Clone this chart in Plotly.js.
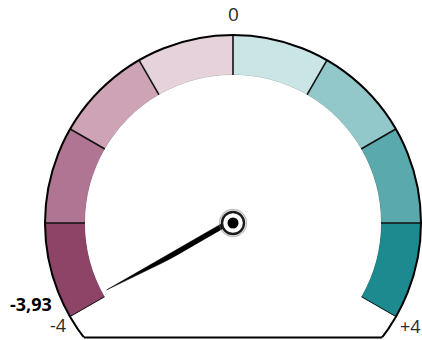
<!DOCTYPE html>
<html>
<head>
<meta charset="utf-8">
<script src="https://cdn.plot.ly/plotly-3.0.1.min.js"></script>
<style>
  html, body { margin: 0; padding: 0; background: #fff; }
  #gauge { width: 422px; height: 340px; }
</style>
</head>
<body>
<div id="gauge"></div>
<script>
// Gauge bands (value ranges and fill colours)
const bandStarts = [-4, -3, -2, -1, 0, 1, 2, 3];
const bandEnds   = [-3, -2, -1, 0, 1, 2, 3, 4];
const bandColors = ['#8e4467', '#b07592', '#cda3b5', '#e6d2da',
                    '#c9e5e6', '#92c8ca', '#5aa9ac', '#1c8a8e'];

// Needle value and the texts printed around the dial
const needleValue = -3.93;
const valueLabel = '-3,93';
const minLabel = '-4';
const midLabel = '0';
const maxLabel = '+4';

// Dial geometry (pixels in a 422x340 page)
const W = 422, H = 340;
const CX = 233, CY = 223, R = 188;
const HOLE = 0.787;
const SPAN_DEG = 240;                       // dial sweeps 240 degrees
const VMIN = bandStarts[0], VMAX = bandEnds[bandEnds.length - 1];
const DEG_PER_UNIT = SPAN_DEG / (VMAX - VMIN);
const deg = v => v * DEG_PER_UNIT;          // 0 sits at the top, clockwise positive

const px = x => x / W;
const py = y => 1 - y / H;

const domain = {
  x: [px(CX - R), px(CX + R)],
  y: [py(CY + R * 0.5), py(CY - R)]
};

// Coloured bands
const bands = {
  type: 'barpolar',
  subplot: 'polar',
  r: bandStarts.map(() => 1),
  theta: bandStarts.map((s, i) => deg((s + bandEnds[i]) / 2)),
  width: bandStarts.map((s, i) => deg(bandEnds[i] - s)),
  marker: { color: bandColors, line: { width: 0 } },
  hoverinfo: 'skip'
};

// Black dividers between bands (and the two end caps)
const bounds = [bandStarts[0]].concat(bandEnds);
const divR = [], divT = [];
bounds.forEach(b => { divR.push(0, 1, null); divT.push(deg(b), deg(b), null); });
const dividers = {
  type: 'scatterpolar',
  subplot: 'polar',
  mode: 'lines',
  r: divR, theta: divT,
  line: { color: '#111', width: 1.6 },
  hoverinfo: 'skip'
};

// Thin soft edge along the inside of the band ring
const innerT = [];
for (let v = VMIN; v <= VMAX + 1e-9; v += 0.05) innerT.push(deg(v));
const innerEdge = {
  type: 'scatterpolar',
  subplot: 'polar',
  mode: 'lines',
  r: innerT.map(() => 0),
  theta: innerT,
  line: { color: 'rgba(90,90,90,0.45)', width: 0.8 },
  hoverinfo: 'skip'
};

// Needle: a slim wedge from the hub to the value
const NEEDLE_LEN = 0.76, NEEDLE_BASE = 0.027;
const needle = {
  type: 'scatterpolar',
  subplot: 'polar2',
  mode: 'lines',
  fill: 'toself',
  fillcolor: '#000',
  r: [NEEDLE_LEN, NEEDLE_BASE, NEEDLE_BASE, NEEDLE_LEN],
  theta: [deg(needleValue), deg(needleValue) + 90, deg(needleValue) - 90, deg(needleValue)],
  line: { color: '#000', width: 0.5 },
  cliponaxis: false,
  hoverinfo: 'skip'
};

// Hub: soft grey halo, dark ring, white gap, black dot
const hubHalo = {
  type: 'scatterpolar',
  subplot: 'polar2',
  mode: 'markers',
  r: [0], theta: [0],
  marker: { size: 27, color: 'rgba(0,0,0,0)', line: { color: 'rgba(120,120,120,0.45)', width: 1.5 } },
  cliponaxis: false,
  hoverinfo: 'skip'
};
const hubRing = {
  type: 'scatterpolar',
  subplot: 'polar2',
  mode: 'markers',
  r: [0], theta: [0],
  marker: { size: 22, color: '#fff', line: { color: '#1a1a1a', width: 2.4 } },
  cliponaxis: false,
  hoverinfo: 'skip'
};
const hubDot = {
  type: 'scatterpolar',
  subplot: 'polar2',
  mode: 'markers',
  r: [0], theta: [0],
  marker: { size: 11, color: '#000' },
  cliponaxis: false,
  hoverinfo: 'skip'
};

const hiddenRadial = { visible: false, range: [0, 1], showgrid: false, showline: false, showticklabels: false, ticks: '' };
const hiddenAngular = { visible: false, direction: 'clockwise', rotation: 90, showgrid: false, showline: false, showticklabels: false, ticks: '' };

// Outer outline: circle cut off by a chord at the bottom
const CHORD_Y = 337.5;
const chordHalf = Math.sqrt(R * R - (CHORD_Y - CY) * (CHORD_Y - CY));

const font = 'Open Sans, Noto Sans, sans-serif';

const layout = {
  width: W, height: H,
  margin: { l: 0, r: 0, t: 0, b: 0 },
  paper_bgcolor: '#fff',
  showlegend: false,
  polar: {
    domain: domain, sector: [-30, 210], hole: HOLE,
    bgcolor: 'rgba(0,0,0,0)',
    radialaxis: hiddenRadial, angularaxis: hiddenAngular
  },
  polar2: {
    domain: domain, sector: [-30, 210], hole: 0,
    bgcolor: 'rgba(0,0,0,0)',
    radialaxis: hiddenRadial, angularaxis: hiddenAngular
  },
  shapes: [
    { type: 'circle', xref: 'paper', yref: 'paper', layer: 'above',
      x0: px(CX - R), x1: px(CX + R), y0: py(CY + R), y1: py(CY - R),
      line: { color: '#000', width: 2 }, fillcolor: 'rgba(0,0,0,0)' },
    { type: 'rect', xref: 'paper', yref: 'paper', layer: 'above',
      x0: 0, x1: 1, y0: -0.5, y1: py(CHORD_Y),
      line: { width: 0 }, fillcolor: '#fff' },
    { type: 'line', xref: 'paper', yref: 'paper', layer: 'above',
      x0: px(CX - chordHalf), x1: px(CX + chordHalf), y0: py(CHORD_Y), y1: py(CHORD_Y),
      line: { color: '#000', width: 2 } }
  ],
  annotations: [
    { text: midLabel, xref: 'paper', yref: 'paper', x: px(233), y: py(14),
      xanchor: 'center', yanchor: 'middle', showarrow: false,
      font: { family: font, size: 19, color: '#2b2b2b' } },
    { text: minLabel, xref: 'paper', yref: 'paper', x: px(58), y: py(325),
      xanchor: 'center', yanchor: 'middle', showarrow: false,
      font: { family: font, size: 18, color: '#2b2b2b' } },
    { text: maxLabel, xref: 'paper', yref: 'paper', x: px(410), y: py(326),
      xanchor: 'center', yanchor: 'middle', showarrow: false,
      font: { family: font, size: 18, color: '#2b2b2b' } },
    { text: '<b>' + valueLabel + '</b>', xref: 'paper', yref: 'paper', x: px(31), y: py(304),
      xanchor: 'center', yanchor: 'middle', showarrow: false,
      font: { family: font, size: 18, color: '#000' } }
  ]
};

Plotly.newPlot('gauge', [bands, innerEdge, dividers, needle, hubHalo, hubRing, hubDot], layout,
  { staticPlot: true, displayModeBar: false });
</script>
</body>
</html>
